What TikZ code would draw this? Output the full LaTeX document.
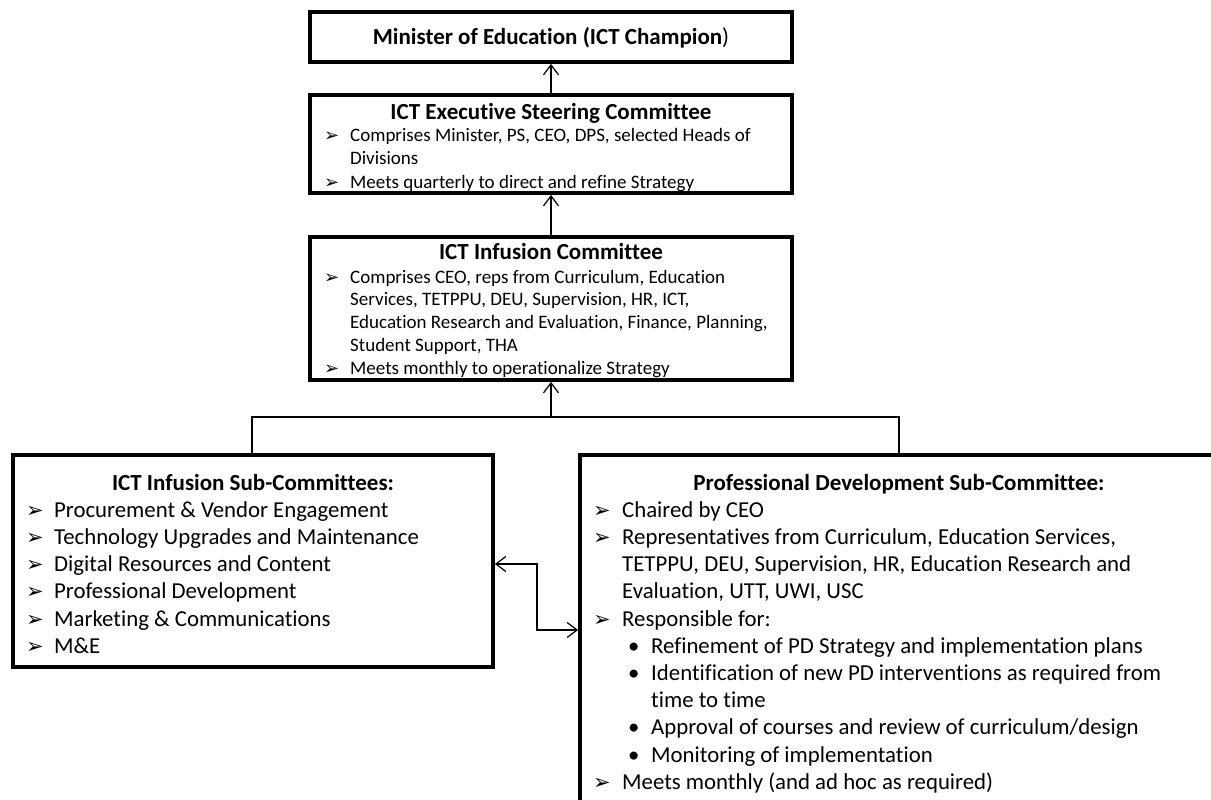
\documentclass[tikz,border=0pt]{standalone}
\usepackage{fontspec}
\setmainfont{Carlito}[Ligatures={NoCommon}]
\newfontfamily\dejavu{DejaVu Sans}
\usetikzlibrary{arrows.meta}
\newcommand{\arbul}[1]{{\fontsize{#1}{#1}\selectfont\dejavu ➢}}
% top boxes: bullet line / continuation line
\newcommand{\topb}[3]{\node[tl] (#1b) at (324,#2) {\arbul{18}}; \node[tl] (#1) at (350,#2) {#3};}
\newcommand{\topc}[3]{\node[tl] (#1) at (350,#2) {#3};}
% left bottom box
\newcommand{\lbul}[3]{\node[bl] (#1b) at (26,#2) {\arbul{21}}; \node[bl] (#1) at (54,#2) {#3};}
% right bottom box
\newcommand{\rbul}[3]{\node[bl] (#1b) at (593,#2) {\arbul{21}}; \node[bl] (#1) at (622,#2) {#3};}
\newcommand{\rcon}[3]{\node[bl] (#1) at (622,#2) {#3};}
\newcommand{\rsub}[3]{\node[bl] (#1b) at (628,#2) {\textbullet}; \node[bl] (#1) at (651,#2) {#3};}
\newcommand{\rsubc}[3]{\node[bl] (#1) at (651,#2) {#3};}
\begin{document}
\begin{tikzpicture}[x=1pt,y=-1pt,
 box/.style={draw=black, line width=3.8pt, inner sep=0pt, outer sep=0pt, anchor=north west},
 conn/.style={draw=black, line width=1.2pt},
 arr/.style={-{Straight Barb[length=10pt,width=15pt,line width=1.2pt]}, shorten >=1.9pt},
 ttl/.style={anchor=base, inner sep=0pt, font=\fontsize{23}{27}\selectfont\bfseries},
 tl/.style={anchor=base west, inner sep=0pt, font=\fontsize{19}{23}\selectfont},
 bl/.style={anchor=base west, inner sep=0pt, font=\fontsize{22.8}{27}\selectfont},
]
\path[use as bounding box, clip] (0,0) rectangle (1211,800);
\fill[white] (0,0) rectangle (1211,800);

% boxes
\node[box, minimum width=482pt, minimum height=50pt] (min) at (310,12) {};
\node[box, minimum width=482pt, minimum height=98pt] (steer) at (310,95) {};
\node[box, minimum width=482pt, minimum height=143pt] (infu) at (310,237) {};
\node[box, minimum width=480pt, minimum height=212pt] (subl) at (13,455) {};
\node[box, minimum width=638pt, minimum height=400pt] (subr) at (580,455) {};

% Minister
\node[ttl] (minT) at (551,44.4) {Minister of Education (ICT Champion{\mdseries)}};

% Steering committee
\node[ttl] (steerT) at (551,119.4) {ICT Executive Steering Committee};
\topb{s1}{141}{Comprises Minister, PS, CEO, DPS, selected Heads of}
\topc{s2}{164}{Divisions}
\topb{s3}{188}{Meets quarterly to direct and refine Strategy}

% Infusion committee
\node[ttl] (infuT) at (551,259.4) {ICT Infusion Committee};
\topb{i1}{283}{Comprises CEO, reps from Curriculum, Education}
\topc{i2}{305.5}{Services, TETPPU, DEU, Supervision, HR, ICT,}
\topc{i3}{328.5}{Education Research and Evaluation, Finance, Planning,}
\topc{i4}{351.5}{Student Support, THA}
\topb{i5}{374.5}{Meets monthly to operationalize Strategy}

% Left sub-committees
\node[ttl] (sublT) at (253,490.4) {ICT Infusion Sub-Committees:};
\lbul{l1}{517.3}{Procurement \& Vendor Engagement}
\lbul{l2}{544.5}{Technology Upgrades and Maintenance}
\lbul{l3}{571.7}{Digital Resources and Content}
\lbul{l4}{598.9}{Professional Development}
\lbul{l5}{626.1}{Marketing \& Communications}
\lbul{l6}{653.3}{M\&E}

% Right PD sub-committee
\node[ttl] (subrT) at (899,490.4) {Professional Development Sub-Committee:};
\rbul{r1}{517.3}{Chaired by CEO}
\rbul{r2}{544.5}{Representatives from Curriculum, Education Services,}
\rcon{r3}{571.7}{TETPPU, DEU, Supervision, HR, Education Research and}
\rcon{r4}{598.9}{Evaluation, UTT, UWI, USC}
\rbul{r5}{626.1}{Responsible for:}
\rsub{r6}{653.3}{Refinement of PD Strategy and implementation plans}
\rsub{r7}{680.5}{Identification of new PD interventions as required from}
\rsubc{r8}{707.7}{time to time}
\rsub{r9}{734.9}{Approval of courses and review of curriculum/design}
\rsub{r10}{762.1}{Monitoring of implementation}
\rbul{r11}{789.3}{Meets monthly (and ad hoc as required)}

% connectors
\draw[conn,arr] (steer.north) -- (min.south);
\draw[conn,arr] (infu.north) -- (steer.south);
\coordinate (j) at (551,417);
\coordinate (jl) at (252,417);
\coordinate (jr) at (899,417);
\draw[conn,arr] (j) -- (infu.south);
\draw[conn] (subl.north -| jl) -- (jl) -- (jr) -- (subr.north -| jr);
\coordinate (d1) at (537,564);
\coordinate (d2) at (537,630);
\draw[conn, {Straight Barb[length=10pt,width=15pt,line width=1.2pt]}-{Straight Barb[length=10pt,width=15pt,line width=1.2pt]}, shorten <=1.9pt, shorten >=1.9pt]
  (subl.east |- d1) -- (d1) -- (d2) -- (subr.west |- d2);
\end{tikzpicture}
\end{document}
